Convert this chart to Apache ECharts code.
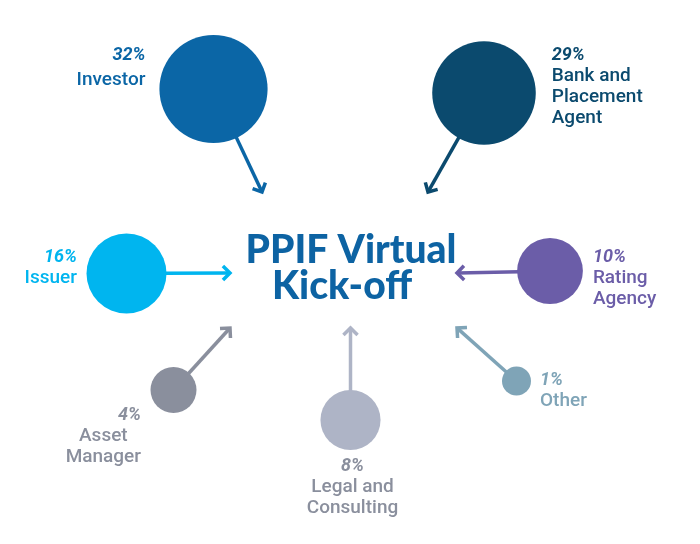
<!DOCTYPE html>
<html><head><meta charset="utf-8">
<script src="https://cdn.jsdelivr.net/npm/echarts@6/dist/echarts.min.js"></script>
<style>html,body{margin:0;padding:0;background:#fff}#c{width:700px;height:544px}</style>
</head><body><div id="c"></div>
<script>
// ---- data ----
const categories = ['Investor', 'Bank and Placement Agent', 'Issuer', 'Rating Agency', 'Asset Manager', 'Legal and Consulting', 'Other'];
const shares = [32, 29, 16, 10, 4, 8, 1];
const labelLines = [['Investor'], ['Bank and', 'Placement', 'Agent'], ['Issuer'], ['Rating', 'Agency'], ['Asset', 'Manager'], ['Legal and', 'Consulting'], ['Other']];
const titleLines = ['PPIF Virtual', 'Kick-off'];

// ---- layout (diagram positions, in pixel-like axis units) ----
const bubbleX = [213.5, 484, 126.5, 550, 173.5, 350.5, 516.5];
const bubbleY = [89, 93, 273.5, 271, 390, 420, 381];
const tipX = [262, 428, 230, 457, 230, 350.5, 457];
const tipY = [192, 192, 273, 273, 328, 328, 328];
const colors = ['#0b66a6', '#0b4a6e', '#00b5ef', '#6b5da8', '#8a8f9d', '#aeb4c6', '#7fa4b7'];
const textColors = ['#0b66a6', '#0b4a6e', '#00b5ef', '#6b5da8', '#8a8f9d', '#8a8f9d', '#7fa4b7'];
const labelCfg = [
  {position: 'left', distance: 14, offset: [0, -23.5]},
  {position: 'right', distance: 16, offset: [0, -6.5]},
  {position: 'left', distance: 9.5, offset: [0, -6]},
  {position: 'right', distance: 10, offset: [0, 7]},
  {position: 'left', distance: 9.5, offset: [0, 46]},
  {position: 'bottom', distance: 5.5, offset: [2, 0]},
  {position: 'right', distance: 9, offset: [0, 9.5]}
];

function radius(v) { return 6 + 8.5 * Math.sqrt(v); }

const FONT = 'Roboto';
const rich = {
  p: {fontFamily: FONT, fontSize: 18, fontWeight: 'bold', fontStyle: 'italic', lineHeight: 21},
  pi: {fontFamily: FONT, fontSize: 18, fontWeight: 'bold', fontStyle: 'italic', lineHeight: 29},
  n: {fontFamily: FONT, fontSize: 19, fontWeight: 500, lineHeight: 21},
  pr: {fontFamily: FONT, fontSize: 18, fontWeight: 'bold', fontStyle: 'italic', lineHeight: 21, align: 'right'},
  nc: {fontFamily: FONT, fontSize: 19, fontWeight: 500, lineHeight: 21, align: 'center'}
};

const bubbleData = categories.map((c, i) => {
  const pStyle = i === 0 ? 'pi' : (i === 4 ? 'pr' : 'p');
  const nStyle = i === 4 ? 'nc' : 'n';
  const txt = ['{' + pStyle + '|' + shares[i] + '%}'].concat(labelLines[i].map(l => '{' + nStyle + '|' + l + '}')).join('\n');
  return {
    name: c,
    value: [bubbleX[i], bubbleY[i], shares[i]],
    itemStyle: {color: colors[i], opacity: 1},
    label: Object.assign({show: true, formatter: txt, color: textColors[i], rich: rich,
      align: labelCfg[i].position === 'left' ? 'right' : (labelCfg[i].position === 'right' ? 'left' : 'center')}, labelCfg[i])
  };
});

const arrowData = categories.map((c, i) => ({value: [bubbleX[i], bubbleY[i], tipX[i], tipY[i], shares[i]], color: colors[i]}));

const chart = echarts.init(document.getElementById('c'));
chart.setOption({
  animation: false,
  backgroundColor: '#fff',
  title: {
    text: '{a|' + titleLines[0] + '}\n{b|' + titleLines[1] + '}', left: 346, top: 227, textAlign: 'center',
    textStyle: {
      rich: {
        a: {fontFamily: 'Lato', fontSize: 39, fontWeight: 900, lineHeight: 36, color: '#0d63a3'},
        b: {fontFamily: 'Lato', fontSize: 39, fontWeight: 900, lineHeight: 36, color: '#0d63a3', padding: [0, 18, 0, 0]}
      }
    }
  },
  grid: {left: 0, right: 0, top: 0, bottom: 0},
  xAxis: {type: 'value', min: 0, max: 700, show: false},
  yAxis: {type: 'value', min: 0, max: 544, inverse: true, show: false},
  series: [
    {
      type: 'custom',
      data: arrowData,
      renderItem: function (params, api) {
        const c = api.coord([api.value(0), api.value(1)]);
        const t = api.coord([api.value(2), api.value(3)]);
        const r = radius(api.value(4));
        const dx = t[0] - c[0], dy = t[1] - c[1];
        const len = Math.sqrt(dx * dx + dy * dy);
        const ux = dx / len, uy = dy / len;
        const s = [c[0] + ux * (r - 2), c[1] + uy * (r - 2)];
        const head = 10, ang = Math.PI / 4;
        const back = Math.atan2(-uy, -ux);
        const a1 = [t[0] + head * Math.cos(back + ang), t[1] + head * Math.sin(back + ang)];
        const a2 = [t[0] + head * Math.cos(back - ang), t[1] + head * Math.sin(back - ang)];
        const col = arrowData[params.dataIndex].color;
        return {
          type: 'group',
          children: [
            {type: 'line', shape: {x1: s[0], y1: s[1], x2: t[0] - ux * 1, y2: t[1] - uy * 1}, style: {stroke: col, lineWidth: 3.5}},
            {type: 'polyline', shape: {points: [a1, t, a2]}, style: {stroke: col, lineWidth: 3.5, fill: null, lineJoin: 'miter'}}
          ]
        };
      },
      z: 1
    },
    {
      type: 'scatter',
      data: bubbleData,
      symbol: 'circle',
      symbolSize: function (v) { return 2 * radius(v[2]); },
      emphasis: {disabled: true},
      z: 2
    }
  ]
});
</script></body></html>
